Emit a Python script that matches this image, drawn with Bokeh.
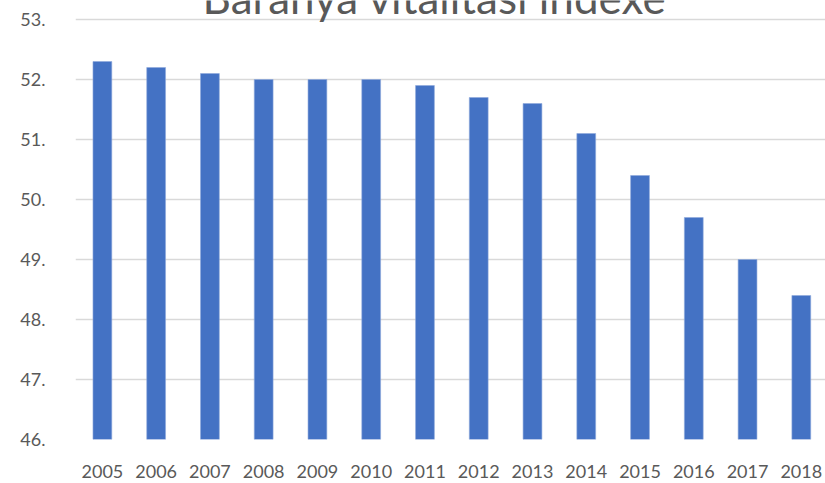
from bokeh.plotting import figure
from bokeh.models import FixedTicker, Range1d, Label, ColumnDataSource
from bokeh.embed import file_html
from bokeh.resources import INLINE

years = [2005, 2006, 2007, 2008, 2009, 2010, 2011, 2012, 2013, 2014, 2015, 2016, 2017, 2018]
values = [52.3, 52.2, 52.1, 52.0, 52.0, 52.0, 51.9, 51.7, 51.6, 51.1, 50.4, 49.7, 49.0, 48.4]
y_ticks = [46, 47, 48, 49, 50, 51, 52, 53]
y_tick_labels = ["46.", "47.", "48.", "49.", "50.", "51.", "52.", "53."]
x_tick_labels = [str(y) for y in years]
title_text = "Baranya vitalitási indexe"

FONT = "Lato"
GREY = "#595959"

src = ColumnDataSource(dict(x=years, top=values))

p = figure(width=825, height=483, output_backend="svg", toolbar_location=None,
           x_range=Range1d(2004.5, 2018.45), y_range=Range1d(46, 53.317),
           min_border_left=75, min_border_right=0, min_border_top=0, min_border_bottom=44)
p.outline_line_color = None
p.background_fill_color = "white"
p.border_fill_color = "white"

p.vbar(x="x", top="top", bottom=46, width=0.35, source=src,
       fill_color="#4472C4", line_color="#8faadc", line_width=0.6)

p.xaxis.ticker = FixedTicker(ticks=years)
p.xaxis.major_label_overrides = {y: s for y, s in zip(years, x_tick_labels)}
p.yaxis.ticker = FixedTicker(ticks=y_ticks)
p.yaxis.major_label_overrides = {t: s for t, s in zip(y_ticks, y_tick_labels)}

for ax in (p.xaxis, p.yaxis):
    ax.axis_line_color = None
    ax.major_tick_line_color = None
    ax.minor_tick_line_color = None
    ax.major_label_text_font = FONT
    ax.major_label_text_font_size = "18px"
    ax.major_label_text_color = GREY
p.xaxis.major_label_standoff = 19
p.yaxis.major_label_standoff = 24

p.xgrid.grid_line_color = None
p.ygrid.ticker = FixedTicker(ticks=y_ticks)
p.ygrid.grid_line_color = "#d9d9d9"
p.ygrid.grid_line_width = 1.5

p.add_layout(Label(x=2011.18, y=53.383, text=title_text, text_align="center",
                   text_baseline="alphabetic", text_font=FONT, text_font_size="44px",
                   text_color=GREY))

open("out.html", "w").write(file_html(p, INLINE))
